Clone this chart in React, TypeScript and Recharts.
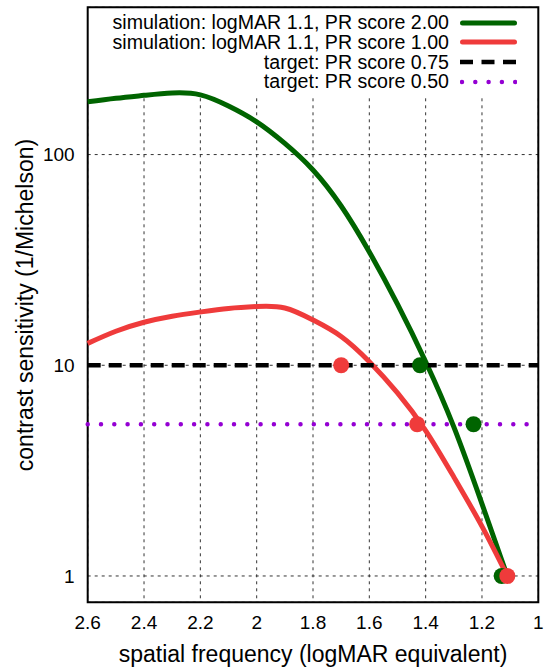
import React from 'react';
import {
    ComposedChart,
    Line,
    Scatter,
    XAxis,
    YAxis,
    CartesianGrid,
    ReferenceArea,
    Legend,
    Label,
} from 'recharts';

// axis ticks
const xTicks = [1, 1.2, 1.4, 1.6, 1.8, 2, 2.2, 2.4, 2.6];
const yMajorTicks = [1, 10, 100];
const yMinorTicks = [0.8, 0.9, 2, 3, 4, 5, 6, 7, 8, 9, 20, 30, 40, 50, 60, 70, 80, 90, 200, 300, 400];

// simulation, PR score 2.00
const logmarPR2 = [2.6, 2.5, 2.4, 2.3, 2.2, 2.1, 2.0, 1.9, 1.8, 1.7, 1.6, 1.5, 1.4, 1.3, 1.2, 1.11];
const csPR2 = [178, 185, 191, 196, 192, 170, 143, 113, 84.5, 57, 34.5, 19.5, 10.4, 5.1, 2.2, 1];

// simulation, PR score 1.00
const logmarPR1 = [2.6, 2.5, 2.4, 2.3, 2.2, 2.1, 2.0, 1.9, 1.8, 1.7, 1.6, 1.5, 1.4, 1.3, 1.2, 1.11];
const csPR1 = [12.7, 14.5, 16, 17.1, 17.9, 18.6, 19, 18.7, 16.4, 13.7, 10.4, 7.4, 4.9, 2.95, 1.72, 1];

// measured points
const greenDotX = [1.42, 1.23, 1.13];
const greenDotY = [10, 5.25, 1];
const redDotX = [1.7, 1.43, 1.11];
const redDotY = [10, 5.25, 1];

// targets
const targetRange = [2.6, 1];
const target075 = 10;
const target050 = 5.25;

const GREEN = '#006400';
const RED = '#EF3B3B';
const PURPLE = '#9400D3';

const toPoints = (xs: number[], ys: number[]) => xs.map((x, i) => ({ x, y: ys[i] }));

const pr2Data = toPoints(logmarPR2, csPR2);
const pr1Data = toPoints(logmarPR1, csPR1);
const target075Data = targetRange.map((x) => ({ x, y: target075 }));
const target050Data = targetRange.map((x) => ({ x, y: target050 }));
const greenDots = toPoints(greenDotX, greenDotY);
const redDots = toPoints(redDotX, redDotY);

const legendItems = [
    { label: 'simulation: logMAR 1.1, PR score 2.00', color: GREEN, dash: undefined, width: 5 },
    { label: 'simulation: logMAR 1.1, PR score 1.00', color: RED, dash: undefined, width: 5 },
    { label: 'target: PR score 0.75', color: '#000', dash: '13 8.5', width: 4.5 },
    { label: 'target: PR score 0.50', color: PURPLE, dash: '0 13.3', width: 4.5 },
];

function renderLegend() {
    return (
        <div style={{ position: 'relative', width: 551, height: 100 }}>
            {legendItems.map((item, i) => (
                <div
                    key={i}
                    style={{
                        position: 'absolute',
                        top: 13.2 + i * 19.7,
                        right: 34,
                        height: 19,
                        display: 'flex',
                        alignItems: 'center',
                    }}
                >
                    <span style={{ fontSize: 19.6, lineHeight: '19px', color: '#000', whiteSpace: 'nowrap' }}>
                        {item.label}
                    </span>
                    <svg width={57} height={10} style={{ marginLeft: 11, display: 'block' }}>
                        <line
                            x1={item.dash ? (item.color === PURPLE ? 2 : 0) : 2.5}
                            x2={item.dash ? 57 : 54.5}
                            y1={5}
                            y2={5}
                            stroke={item.color}
                            strokeWidth={item.width}
                            strokeDasharray={item.dash}
                            strokeLinecap={item.color === PURPLE || !item.dash ? 'round' : 'butt'}
                        />
                    </svg>
                </div>
            ))}
        </div>
    );
}

const dot = (color: string) => (props: any) => <circle cx={props.cx} cy={props.cy} r={8} fill={color} />;

export default function App() {
    return (
        <div
            style={{
                position: 'absolute',
                left: 0,
                top: 0,
                width: 551,
                height: 669,
                background: '#fff',
                fontFamily: '"Liberation Sans", Arial, sans-serif',
            }}
        >
            <ComposedChart width={551} height={669} margin={{ top: 7.3, right: 12.7, bottom: 0, left: 0 }}>
                <CartesianGrid stroke="#333" strokeDasharray="3 4" strokeWidth={1} />

                {/* inward tick marks */}
                <XAxis
                    xAxisId="bmaj"
                    type="number"
                    dataKey="x"
                    domain={[1, 2.6]}
                    reversed
                    ticks={xTicks}
                    orientation="bottom"
                    mirror
                    height={0}
                    tick={false}
                    tickSize={7}
                    axisLine={false}
                    tickLine={{ stroke: '#000', strokeWidth: 1.5 }}
                />
                <XAxis
                    xAxisId="top"
                    type="number"
                    dataKey="x"
                    domain={[1, 2.6]}
                    reversed
                    ticks={xTicks}
                    orientation="top"
                    mirror
                    height={0}
                    tick={false}
                    tickSize={7}
                    axisLine={false}
                    tickLine={{ stroke: '#000', strokeWidth: 1.5 }}
                />
                <YAxis yAxisId="lmaj" type="number" scale="log" domain={[0.75, 500]} ticks={yMajorTicks} orientation="left" mirror width={0} tick={false} tickSize={8} axisLine={false} tickLine={{ stroke: '#000', strokeWidth: 1.5 }} />
                <YAxis yAxisId="lmin" type="number" scale="log" domain={[0.75, 500]} ticks={yMinorTicks} orientation="left" mirror width={0} tick={false} tickSize={4} axisLine={false} tickLine={{ stroke: '#000', strokeWidth: 1.5 }} />
                <YAxis yAxisId="rmaj" type="number" scale="log" domain={[0.75, 500]} ticks={yMajorTicks} orientation="right" mirror width={0} tick={false} tickSize={8} axisLine={false} tickLine={{ stroke: '#000', strokeWidth: 1.5 }} />
                <YAxis yAxisId="rmin" type="number" scale="log" domain={[0.75, 500]} ticks={yMinorTicks} orientation="right" mirror width={0} tick={false} tickSize={4} axisLine={false} tickLine={{ stroke: '#000', strokeWidth: 1.5 }} />

                <XAxis
                    type="number"
                    dataKey="x"
                    domain={[1, 2.6]}
                    reversed
                    ticks={xTicks}
                    height={66.7}
                    tickLine={false}
                    axisLine={false}
                    tickSize={6}
                    tickMargin={7}
                    tick={{ fill: '#000', fontSize: 19 }}
                    tickFormatter={(v) => String(v)}
                >
                    <Label
                        content={() => (
                            <text x={313} y={662} textAnchor="middle" fontSize={23} fill="#000">
                                spatial frequency (logMAR equivalent)
                            </text>
                        )}
                    />
                </XAxis>
                <YAxis
                    type="number"
                    scale="log"
                    domain={[0.75, 500]}
                    ticks={yMajorTicks}
                    allowDataOverflow
                    width={87.7}
                    tickLine={false}
                    axisLine={false}
                    tickSize={6}
                    tickMargin={7}
                    tick={{ fill: '#000', fontSize: 19 }}
                >
                    <Label
                        content={() => (
                            <text
                                x={33}
                                y={305}
                                transform="rotate(-90, 33, 305)"
                                textAnchor="middle"
                                fontSize={23}
                                fill="#000"
                            >
                                contrast sensitivity (1/Michelson)
                            </text>
                        )}
                    />
                </YAxis>

                {/* opaque key box */}
                <ReferenceArea x1={1} x2={2.6} y1={191} y2={500} fill="#fff" fillOpacity={1} stroke="none" />

                <Line data={pr2Data} dataKey="y" type="natural" stroke={GREEN} strokeWidth={5} dot={false} activeDot={false} isAnimationActive={false} />
                <Line data={pr1Data} dataKey="y" type="natural" stroke={RED} strokeWidth={5} dot={false} activeDot={false} isAnimationActive={false} />
                <Line data={target075Data} dataKey="y" type="linear" stroke="#000" strokeWidth={4.5} strokeDasharray="13 8" dot={false} activeDot={false} isAnimationActive={false} />
                <Line data={target050Data} dataKey="y" type="linear" stroke={PURPLE} strokeWidth={4.5} strokeDasharray="0 13.3" strokeLinecap="round" dot={false} activeDot={false} isAnimationActive={false} />

                <Scatter data={greenDots} dataKey="y" shape={dot(GREEN)} isAnimationActive={false} />
                <Scatter data={redDots} dataKey="y" shape={dot(RED)} isAnimationActive={false} />

                {/* border */}
                <ReferenceArea x1={1} x2={2.6} y1={0.75} y2={500} fill="none" stroke="#000" strokeWidth={2} />

                <Legend
                    layout="vertical"
                    align="center"
                    verticalAlign="middle"
                    wrapperStyle={{ position: 'absolute', top: 0, left: 0, width: 551, height: 100 }}
                    content={renderLegend}
                />
            </ComposedChart>
        </div>
    );
}
